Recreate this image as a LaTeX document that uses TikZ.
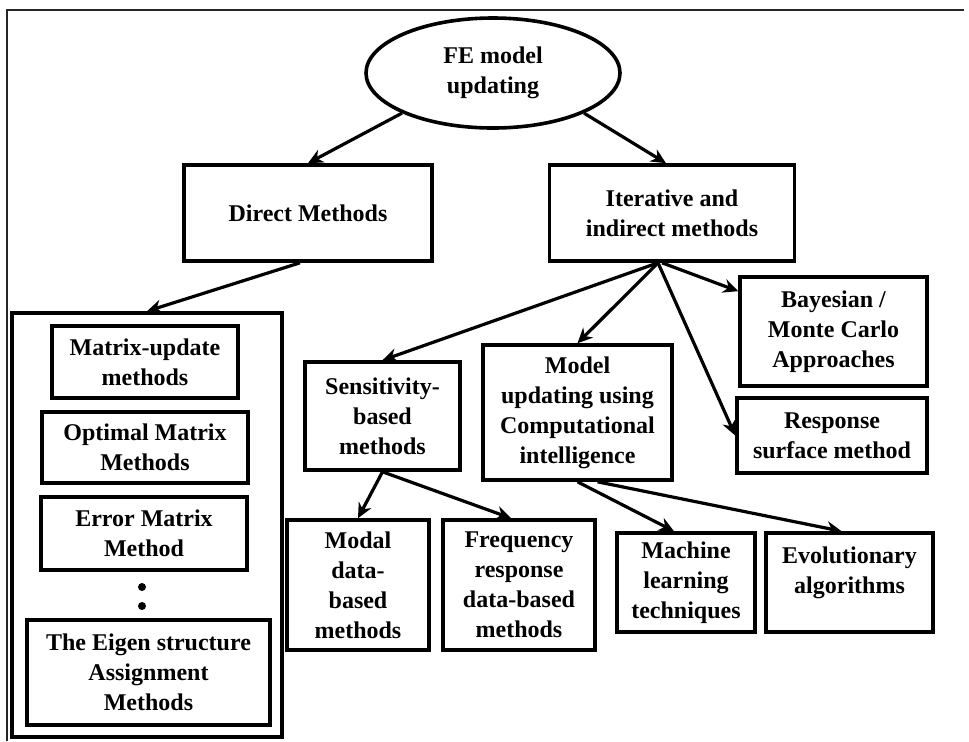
\documentclass[tikz,border=0pt]{standalone}
\usepackage{fontspec}
\setmainfont{Liberation Serif}
\usetikzlibrary{shapes.geometric,arrows.meta}
\tikzset{
  blk/.style={draw=black, line width=1.8pt, fill=white, align=center, inner sep=0pt,
    font=\fontsize{12}{15}\selectfont\bfseries},
  arr/.style={line width=1.6pt, -{Stealth[length=7.5pt,width=7pt]}}
}
\begin{document}
\begin{tikzpicture}[x=0.5pt,y=-0.5pt]
\useasboundingbox (0,0) rectangle (969,741);
\draw[line width=1pt, black!85] (7,741)--(7,10)--(964,10);
\node[blk, ellipse, minimum width=127pt, minimum height=55pt] (fe) at (493,73) {FE model\\updating};
\node[blk, minimum width=124pt, minimum height=48pt] (dm) at (308,213) {Direct Methods};
\node[blk, minimum width=122.5pt, minimum height=48pt] (itr) at (672,213) {Iterative and\\indirect methods};
\node[blk, minimum width=135pt, minimum height=212pt] (big) at (147,525) {};
\node[blk, minimum width=93pt, minimum height=36pt] (mu) at (145,362) {Matrix-update\\methods};
\node[blk, minimum width=103pt, minimum height=35.5pt] (om) at (145,447.5) {Optimal Matrix\\Methods};
\node[blk, minimum width=103pt, minimum height=36.5pt] (em) at (144,533.5) {Error Matrix\\Method};
\fill (142,587) circle[radius=2pt];
\fill (142,606) circle[radius=2pt];
\node[blk, minimum width=121.5pt, minimum height=52.5pt] (eig) at (148.5,672.5) {The Eigen structure\\Assignment\\Methods};
\node[blk, minimum width=77.5pt, minimum height=54pt] (sens) at (382.5,416) {Sensitivity-\\based\\methods};
\node[blk, minimum width=71pt, minimum height=65pt] (modal) at (358,585) {Modal\\data-\\based\\methods};
\node[blk, minimum width=76pt, minimum height=65pt] (freq) at (519,585) {Frequency\\response\\data-based\\methods};
\node[blk, minimum width=94.5pt, minimum height=67.5pt] (ci) at (577.5,412.5) {Model\\updating using\\Computational\\intelligence};
\node[blk, minimum width=93.5pt, minimum height=54.5pt] (bay) at (833.5,331.5) {Bayesian /\\Monte Carlo\\Approaches};
\node[blk, minimum width=95pt, minimum height=37.5pt] (rs) at (832,435.5) {Response\\surface method};
\node[blk, minimum width=69pt, minimum height=49.5pt] (ml) at (686,582.5) {Machine\\learning\\techniques};
\node[blk, minimum width=83.5pt, minimum height=49.5pt] (evo) at (849.5,582.5) {Evolutionary\\algorithms\\[-3pt]};
\draw[arr] (fe.south west)--(dm.north);
\draw[arr] (fe.south east)--([xshift=-3pt]itr.north);
\draw[arr] ([xshift=-4pt]dm.south)--(big.north);
\draw[arr] ([xshift=-7pt]itr.south)--(sens.north);
\draw[arr] ([xshift=-7pt]itr.south)--(ci.north);
\draw[arr] ([xshift=-7pt]itr.south)--(rs.west);
\draw[arr] ([xshift=-5pt]itr.south)--([yshift=-8pt]bay.north west);
\draw[arr] (sens.south)--(modal.north);
\draw[arr] (sens.south)--([xshift=-4pt]freq.north);
\draw[arr] (ci.south)--([xshift=-6pt]ml.north);
\draw[arr] ([xshift=10pt]ci.south)--([xshift=-4pt]evo.north);
\end{tikzpicture}
\end{document}
